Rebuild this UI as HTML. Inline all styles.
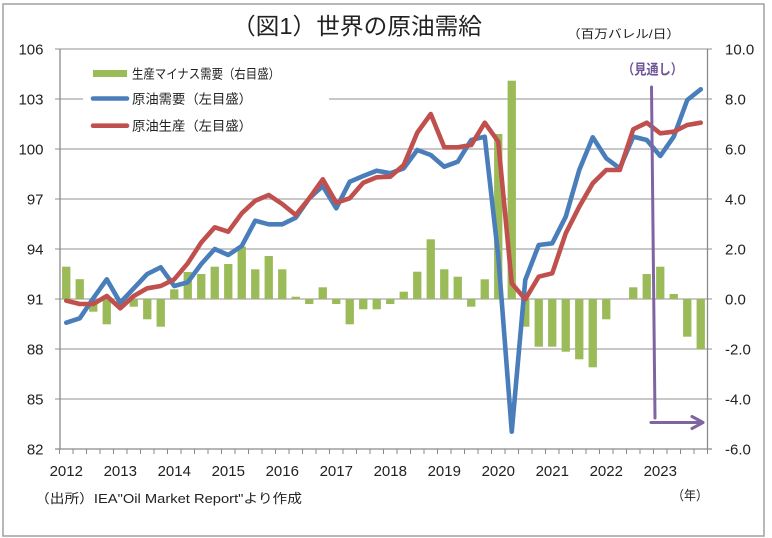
<!DOCTYPE html>
<html>
<head>
<meta charset="utf-8">
<style>
html,body{margin:0;padding:0;background:#fff;}
svg{display:block;}
text{font-family:"Liberation Sans","Noto Sans CJK JP",sans-serif;}
</style>
</head>
<body>
<svg width="772" height="538" viewBox="0 0 772 538" xmlns="http://www.w3.org/2000/svg">
<rect x="0" y="0" width="772" height="538" fill="#fff"/>
<rect x="3" y="4" width="761" height="532" fill="none" stroke="#a0a0a0" stroke-width="1.5"/>

<text x="232" y="34" font-size="23" fill="#222" textLength="250" lengthAdjust="spacingAndGlyphs">（図1）世界の原油需給</text>
<text x="567" y="38" font-size="12" fill="#222" textLength="113" lengthAdjust="spacingAndGlyphs">（百万バレル/日）</text>

<g stroke="#a6a6a6" stroke-width="1.3">
<line x1="55" y1="49" x2="712" y2="49"/>
<line x1="55" y1="99" x2="83" y2="99"/>
<line x1="329" y1="99" x2="712" y2="99"/>
<line x1="55" y1="149" x2="712" y2="149"/>
<line x1="55" y1="199" x2="712" y2="199"/>
<line x1="55" y1="249" x2="712" y2="249"/>
<line x1="55" y1="299" x2="712" y2="299"/>
<line x1="55" y1="349" x2="712" y2="349"/>
<line x1="55" y1="399" x2="712" y2="399"/>
</g>
<g stroke="#8a8a8a" stroke-width="1.3">
<line x1="60" y1="49" x2="60" y2="449"/>
<line x1="707.5" y1="49" x2="707.5" y2="449"/>
<line x1="55" y1="449" x2="712" y2="449"/>
</g>
<path stroke="#8a8a8a" stroke-width="1" fill="none" d="M59.5 449v5M73 449v5M86.5 449v5M100 449v5M113.5 449v5M127 449v5M140.5 449v5M154 449v5M167.5 449v5M181 449v5M194.5 449v5M208 449v5M221.5 449v5M235 449v5M248.5 449v5M262 449v5M275.5 449v5M289 449v5M302.5 449v5M316 449v5M329.5 449v5M343 449v5M356.5 449v5M370 449v5M383.5 449v5M397 449v5M410.5 449v5M424 449v5M437.5 449v5M451 449v5M464.5 449v5M478 449v5M491.5 449v5M505 449v5M518.5 449v5M532 449v5M545.5 449v5M559 449v5M572.5 449v5M586 449v5M599.5 449v5M613 449v5M626.5 449v5M640 449v5M653.5 449v5M667 449v5M680.5 449v5M694 449v5M707.5 449v5"/>

<g font-size="15" fill="#222" text-anchor="end">
<text x="43.5" y="54.5">106</text>
<text x="43.5" y="104.5">103</text>
<text x="43.5" y="154.5">100</text>
<text x="43.5" y="204.5">97</text>
<text x="43.5" y="254.5">94</text>
<text x="43.5" y="304.5">91</text>
<text x="43.5" y="354.5">88</text>
<text x="43.5" y="404.5">85</text>
<text x="43.5" y="454.5">82</text>
</g>
<g font-size="15" fill="#222">
<text x="725" y="54.5">10.0</text>
<text x="725" y="104.5">8.0</text>
<text x="725" y="154.5">6.0</text>
<text x="725" y="204.5">4.0</text>
<text x="725" y="254.5">2.0</text>
<text x="725" y="304.5">0.0</text>
<text x="725" y="354.5">-2.0</text>
<text x="725" y="404.5">-4.0</text>
<text x="725" y="454.5">-6.0</text>
</g>
<g font-size="15" fill="#222" text-anchor="middle">
<text x="66.25" y="476">2012</text>
<text x="120.25" y="476">2013</text>
<text x="174.25" y="476">2014</text>
<text x="228.25" y="476">2015</text>
<text x="282.25" y="476">2016</text>
<text x="336.25" y="476">2017</text>
<text x="390.25" y="476">2018</text>
<text x="444.25" y="476">2019</text>
<text x="498.25" y="476">2020</text>
<text x="552.25" y="476">2021</text>
<text x="606.25" y="476">2022</text>
<text x="660.25" y="476">2023</text>
</g>

<g fill="#9bbb59">
<rect x="62.1" y="266.7" width="8.3" height="32.3"/>
<rect x="75.6" y="279.2" width="8.3" height="19.8"/>
<rect x="89.1" y="299" width="8.3" height="12.7"/>
<rect x="102.6" y="299" width="8.3" height="25.3"/>
<rect x="116.1" y="299" width="8.3" height="6.3"/>
<rect x="129.6" y="299" width="8.3" height="7.7"/>
<rect x="143.1" y="299" width="8.3" height="20.3"/>
<rect x="156.6" y="299" width="8.3" height="27.7"/>
<rect x="170.1" y="289.3" width="8.3" height="9.7"/>
<rect x="183.6" y="272" width="8.3" height="27"/>
<rect x="197.1" y="274" width="8.3" height="25"/>
<rect x="210.6" y="266.7" width="8.3" height="32.3"/>
<rect x="224.1" y="264" width="8.3" height="35"/>
<rect x="237.6" y="246.7" width="8.3" height="52.3"/>
<rect x="251.1" y="269.3" width="8.3" height="29.7"/>
<rect x="264.6" y="256" width="8.3" height="43"/>
<rect x="278.1" y="269.3" width="8.3" height="29.7"/>
<rect x="291.6" y="296.7" width="8.3" height="2.3"/>
<rect x="305.1" y="299" width="8.3" height="5"/>
<rect x="318.6" y="287.3" width="8.3" height="11.7"/>
<rect x="332.1" y="299" width="8.3" height="5"/>
<rect x="345.6" y="299" width="8.3" height="25.3"/>
<rect x="359.1" y="299" width="8.3" height="10.3"/>
<rect x="372.6" y="299" width="8.3" height="10.3"/>
<rect x="386.1" y="299" width="8.3" height="5"/>
<rect x="399.6" y="291.7" width="8.3" height="7.3"/>
<rect x="413.1" y="271.7" width="8.3" height="27.3"/>
<rect x="426.6" y="239.3" width="8.3" height="59.7"/>
<rect x="440.1" y="269.3" width="8.3" height="29.7"/>
<rect x="453.6" y="276.7" width="8.3" height="22.3"/>
<rect x="467.1" y="299" width="8.3" height="7.7"/>
<rect x="480.6" y="279.3" width="8.3" height="19.7"/>
<rect x="494.1" y="134" width="8.3" height="165"/>
<rect x="507.6" y="80.7" width="8.3" height="218.3"/>
<rect x="521.1" y="299" width="8.3" height="27.7"/>
<rect x="534.6" y="299" width="8.3" height="47.7"/>
<rect x="548.1" y="299" width="8.3" height="47.7"/>
<rect x="561.6" y="299" width="8.3" height="52.7"/>
<rect x="575.1" y="299" width="8.3" height="60.3"/>
<rect x="588.6" y="299" width="8.3" height="68.3"/>
<rect x="602.1" y="299" width="8.3" height="20.3"/>
<rect x="629.1" y="287.3" width="8.3" height="11.7"/>
<rect x="642.6" y="274" width="8.3" height="25"/>
<rect x="656.1" y="266.7" width="8.3" height="32.3"/>
<rect x="669.6" y="294" width="8.3" height="5"/>
<rect x="683.1" y="299" width="8.3" height="37.7"/>
<rect x="696.6" y="299" width="8.3" height="50.3"/>
</g>

<polyline fill="none" stroke="#4a7ebb" stroke-width="4.6" stroke-linejoin="round" stroke-linecap="round" points="66.25,322.7 79.75,318.3 93.25,298.3 106.75,279.3 120.25,302.7 133.75,288.3 147.25,274 160.75,267.3 174.25,286 187.75,282.3 201.25,264 214.75,249 228.25,255 241.75,246 255.25,220.7 268.75,224.3 282.25,224.3 295.75,217.7 309.25,198.3 322.75,186 336.25,208.3 349.75,181.7 363.25,176 376.75,170.7 390.25,173.3 403.75,168.3 417.25,150 430.75,155 444.25,166.7 457.75,161.7 471.25,140 484.75,136.7 498.25,256 511.75,431.7 525.25,280 538.75,245 552.25,243.3 565.75,216.7 579.25,170 592.75,137.3 606.25,158.3 619.75,168.3 633.25,136.7 646.75,140 660.25,156 673.75,136.7 687.25,100 700.75,89.3"/>
<polyline fill="none" stroke="#c0504d" stroke-width="4.6" stroke-linejoin="round" stroke-linecap="round" points="66.25,300.7 79.75,304 93.25,304 106.75,296 120.25,308.3 133.75,296 147.25,288.3 160.75,286 174.25,279.3 187.75,263.3 201.25,242.5 214.75,227.3 228.25,231.7 241.75,213.3 255.25,200.7 268.75,195 282.25,204 295.75,215 309.25,198.3 322.75,179.3 336.25,202.7 349.75,198.3 363.25,182.7 376.75,177.3 390.25,176.7 403.75,165 417.25,132.7 430.75,114 444.25,147.3 457.75,147.3 471.25,145 484.75,122.7 498.25,141.7 511.75,283.3 525.25,299.3 538.75,276.7 552.25,273.3 565.75,233.3 579.25,206.7 592.75,183.3 606.25,170 619.75,170 633.25,129.3 646.75,122.7 660.25,133.3 673.75,131.7 687.25,125 700.75,122.7"/>

<g stroke="#8064a2" stroke-width="3" fill="none" stroke-linecap="round">
<line x1="651.5" y1="87" x2="655" y2="418"/>
<line x1="651" y1="422.5" x2="702" y2="422.5"/>
<polyline points="692,416.5 703,422.5 692,428.5" stroke-linejoin="round"/>
</g>
<text x="622" y="74.5" font-size="14" font-weight="bold" fill="#6f5598" textLength="61" lengthAdjust="spacingAndGlyphs">（見通し）</text>

<rect x="93" y="70" width="34" height="7" fill="#9bbb59"/>
<text x="132" y="78.3" font-size="13" fill="#222" textLength="148" lengthAdjust="spacingAndGlyphs">生産マイナス需要（右目盛）</text>
<line x1="93" y1="98.5" x2="127" y2="98.5" stroke="#4a7ebb" stroke-width="4.6" stroke-linecap="round"/>
<text x="132" y="103.3" font-size="13" fill="#222" textLength="120" lengthAdjust="spacingAndGlyphs">原油需要（左目盛）</text>
<line x1="93" y1="125.7" x2="127" y2="125.7" stroke="#c0504d" stroke-width="4.6" stroke-linecap="round"/>
<text x="132" y="130.7" font-size="13" fill="#222" textLength="120" lengthAdjust="spacingAndGlyphs">原油生産（左目盛）</text>

<text x="35" y="503" font-size="13" fill="#222" textLength="267" lengthAdjust="spacingAndGlyphs">（出所）IEA"Oil Market Report"より作成</text>
<text x="672" y="500" font-size="13" fill="#222" textLength="36" lengthAdjust="spacingAndGlyphs">（年）</text>
</svg>
</body>
</html>
